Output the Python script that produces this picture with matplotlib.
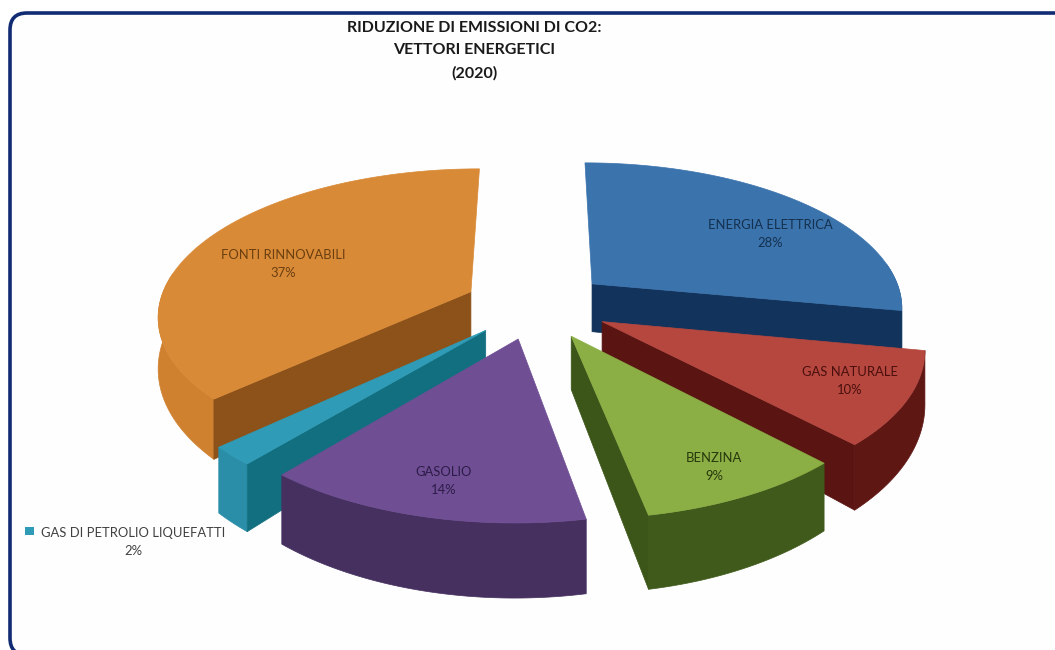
import numpy as np
import matplotlib
matplotlib.use('Agg')
import matplotlib.pyplot as plt
from matplotlib.patches import FancyBboxPatch, Polygon, Rectangle

# slices, clockwise from 12 o'clock
categories = ['ENERGIA ELETTRICA', 'GAS NATURALE', 'BENZINA', 'GASOLIO',
              'GAS DI PETROLIO LIQUEFATTI', 'FONTI RINNOVABILI']
values = [28, 10, 9, 14, 2, 37]
title_lines = ['RIDUZIONE DI EMISSIONI DI CO2:', 'VETTORI ENERGETICI', '(2020)']

top_colors = ['#3b73ad', '#b5473f', '#8bae45', '#6f4e94', '#2f9bb6', '#d98a37']
inner_colors = ['#12345c', '#5a1512', '#3c5518', '#3f2c5c', '#126f80', '#8c5219']
outer_colors = ['#2f6296', '#5f1714', '#3f5a1a', '#45305f', '#2a8ea8', '#cf8130']
label_colors = ['#14304f', '#4a0f0c', '#26380c', '#2c1c48', '#404040', '#6b3f10']

# projection settings (pixels)
CX, CY = 537, 305
RX, RY = 312, 145
EXPLODE = 0.234
PERSP = 0.15
DEPTH = 50


def project(x, y):
    s = 1 / (1 + PERSP * y)
    return CX + RX * x * s, CY - RY * y * s, DEPTH * s ** 2


def slice_faces(start, end):
    mid = (start + end) / 2
    ox, oy = EXPLODE * np.sin(mid), EXPLODE * np.cos(mid)
    th = np.linspace(start, end, 80)
    ax_, ay_, ad = project(ox, oy)
    px, py, pd = project(ox + np.sin(th), oy + np.cos(th))
    apex = (ax_, ay_, ad)
    return apex, px, py, pd, th


fig = plt.figure(figsize=(10.55, 6.5), dpi=100)
ax = fig.add_axes([0, 0, 1, 1])
ax.set_xlim(0, 1055)
ax.set_ylim(650, 0)
ax.axis('off')
plt.rcParams['font.family'] = ['Lato', 'DejaVu Sans']

# frame runs off the right and bottom of the picture
ax.add_patch(FancyBboxPatch((10, 13), 1100, 642, boxstyle='round,pad=0,rounding_size=17',
                            fc='#fefefe', ec='#122c74', lw=2.6))

fractions = np.array(values) / sum(values)
edges = np.concatenate([[0], np.cumsum(fractions)]) * 2 * np.pi
mids = (edges[:-1] + edges[1:]) / 2

# paint from back to front
order = np.argsort(-(np.cos(mids)))
for i in order:
    start, end = edges[i], edges[i + 1]
    apex, px, py, pd, th = slice_faces(start, end)
    # curved rim, only the part that looks towards the viewer
    front = np.cos(th) < 0.15
    if front.any():
        rx_, ry_, rd = px[front], py[front], pd[front]
        rim = np.column_stack([np.r_[rx_, rx_[::-1]], np.r_[ry_, (ry_ + rd)[::-1]]])
        ax.add_patch(Polygon(rim, fc=outer_colors[i], ec=outer_colors[i], lw=0.5))
    # flat cut faces that look towards the viewer
    if -np.sin(end) < 0:
        face = [(apex[0], apex[1]), (px[-1], py[-1]), (px[-1], py[-1] + pd[-1]),
                (apex[0], apex[1] + apex[2])]
        ax.add_patch(Polygon(face, fc=inner_colors[i], ec=inner_colors[i], lw=0.5))
    if np.sin(start) < 0:
        face = [(apex[0], apex[1]), (px[0], py[0]), (px[0], py[0] + pd[0]),
                (apex[0], apex[1] + apex[2])]
        ax.add_patch(Polygon(face, fc=inner_colors[i], ec=inner_colors[i], lw=0.5))
    # top
    top = np.column_stack([np.r_[apex[0], px], np.r_[apex[1], py]])
    ax.add_patch(Polygon(top, fc=top_colors[i], ec=top_colors[i], lw=0.5))

# data labels
label_pos = [(770, 234), (850, 381), (714, 467), (444, 481), (133, 542), (283, 264)]
for name, val, pos, col in zip(categories, values, label_pos, label_colors):
    ax.text(pos[0], pos[1], f'{name}\n{val}%', ha='center', va='center', fontsize=9.4,
            color=col, linespacing=1.6)
ax.add_patch(Rectangle((25, 527), 9, 8, fc=top_colors[4], ec='none'))

for line, y in zip(title_lines, [28, 50, 73]):
    ax.text(474, y, line, ha='center', va='center', fontsize=11.5, fontweight='bold', color='#1a1a1a')

fig.savefig('out.png', dpi=100)
